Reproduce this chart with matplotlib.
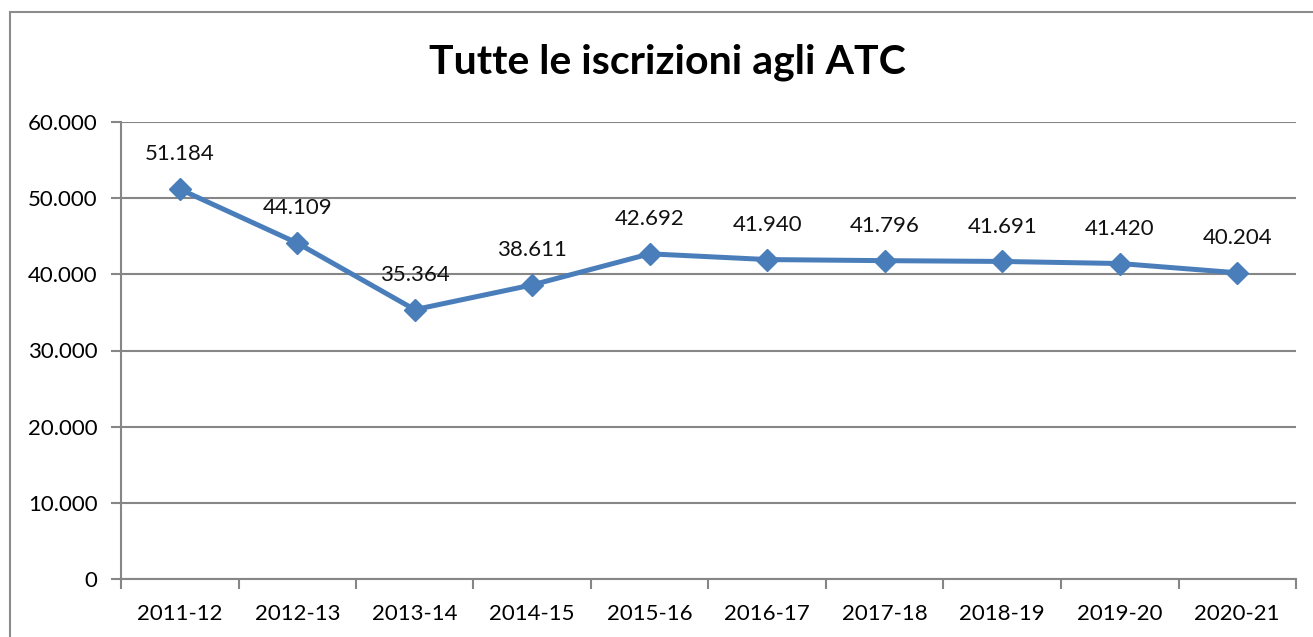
import matplotlib
matplotlib.use('Agg')
import matplotlib.pyplot as plt
from matplotlib.patches import Rectangle
from matplotlib.ticker import FuncFormatter, MultipleLocator

plt.rcParams['font.family'] = ['Lato', 'DejaVu Sans']

stagioni = ['2011-12', '2012-13', '2013-14', '2014-15', '2015-16',
            '2016-17', '2017-18', '2018-19', '2019-20', '2020-21']
iscrizioni = [51184, 44109, 35364, 38611, 42692, 41940, 41796, 41691, 41420, 40204]


def fmt_it(v, pos=None):
    return f'{int(round(v)):,}'.replace(',', '.')


W, H = 1313, 637
fig = plt.figure(figsize=(W / 100, H / 100), dpi=100)
fig.patch.set_facecolor('white')

# cornice del grafico (tagliata a destra e in basso)
fig.patches.append(Rectangle((10 / W, -0.05), 1.2, 1 - 12 / H + 0.05,
                             transform=fig.transFigure, fill=False,
                             edgecolor='#8c8c8c', linewidth=1.5))

ax = fig.add_axes([121 / W, 1 - 579 / H, (1296 - 121) / W, (579 - 122) / H])
grey = '#868686'
x = range(len(stagioni))
ax.plot(x, iscrizioni, color='#4a7ebb', linewidth=3.6, marker='D',
        markersize=11, zorder=5)

for i, v in enumerate(iscrizioni):
    ax.annotate(fmt_it(v), (i, v), textcoords='offset points', xytext=(0, 25),
                ha='center', va='center', fontsize=16, color='#111111')

ax.set_xlim(-0.5, len(stagioni) - 0.5)
ax.set_ylim(0, 60000)
ax.yaxis.set_major_locator(MultipleLocator(10000))
ax.yaxis.set_major_formatter(FuncFormatter(fmt_it))
ax.set_xticks(list(x))
ax.set_xticklabels(stagioni)
ax.set_xticks([i - 0.5 for i in range(len(stagioni) + 1)], minor=True)
ax.tick_params(axis='x', which='major', length=0, pad=18, labelsize=16)
ax.tick_params(axis='x', which='minor', length=7, color=grey, width=1.5)
ax.tick_params(axis='y', length=7, color=grey, width=1.5, pad=10, labelsize=16)
ax.grid(axis='y', color=grey, linewidth=1.5)
ax.set_axisbelow(True)
for s in ['top', 'right']:
    ax.spines[s].set_visible(False)
for s in ['left', 'bottom']:
    ax.spines[s].set_color(grey)
    ax.spines[s].set_linewidth(1.5)

fig.text(667 / W, 1 - 62 / H, 'Tutte le iscrizioni agli ATC', ha='center',
         va='center', fontsize=29.5, fontweight='bold')

fig.savefig('out.png', dpi=100)
